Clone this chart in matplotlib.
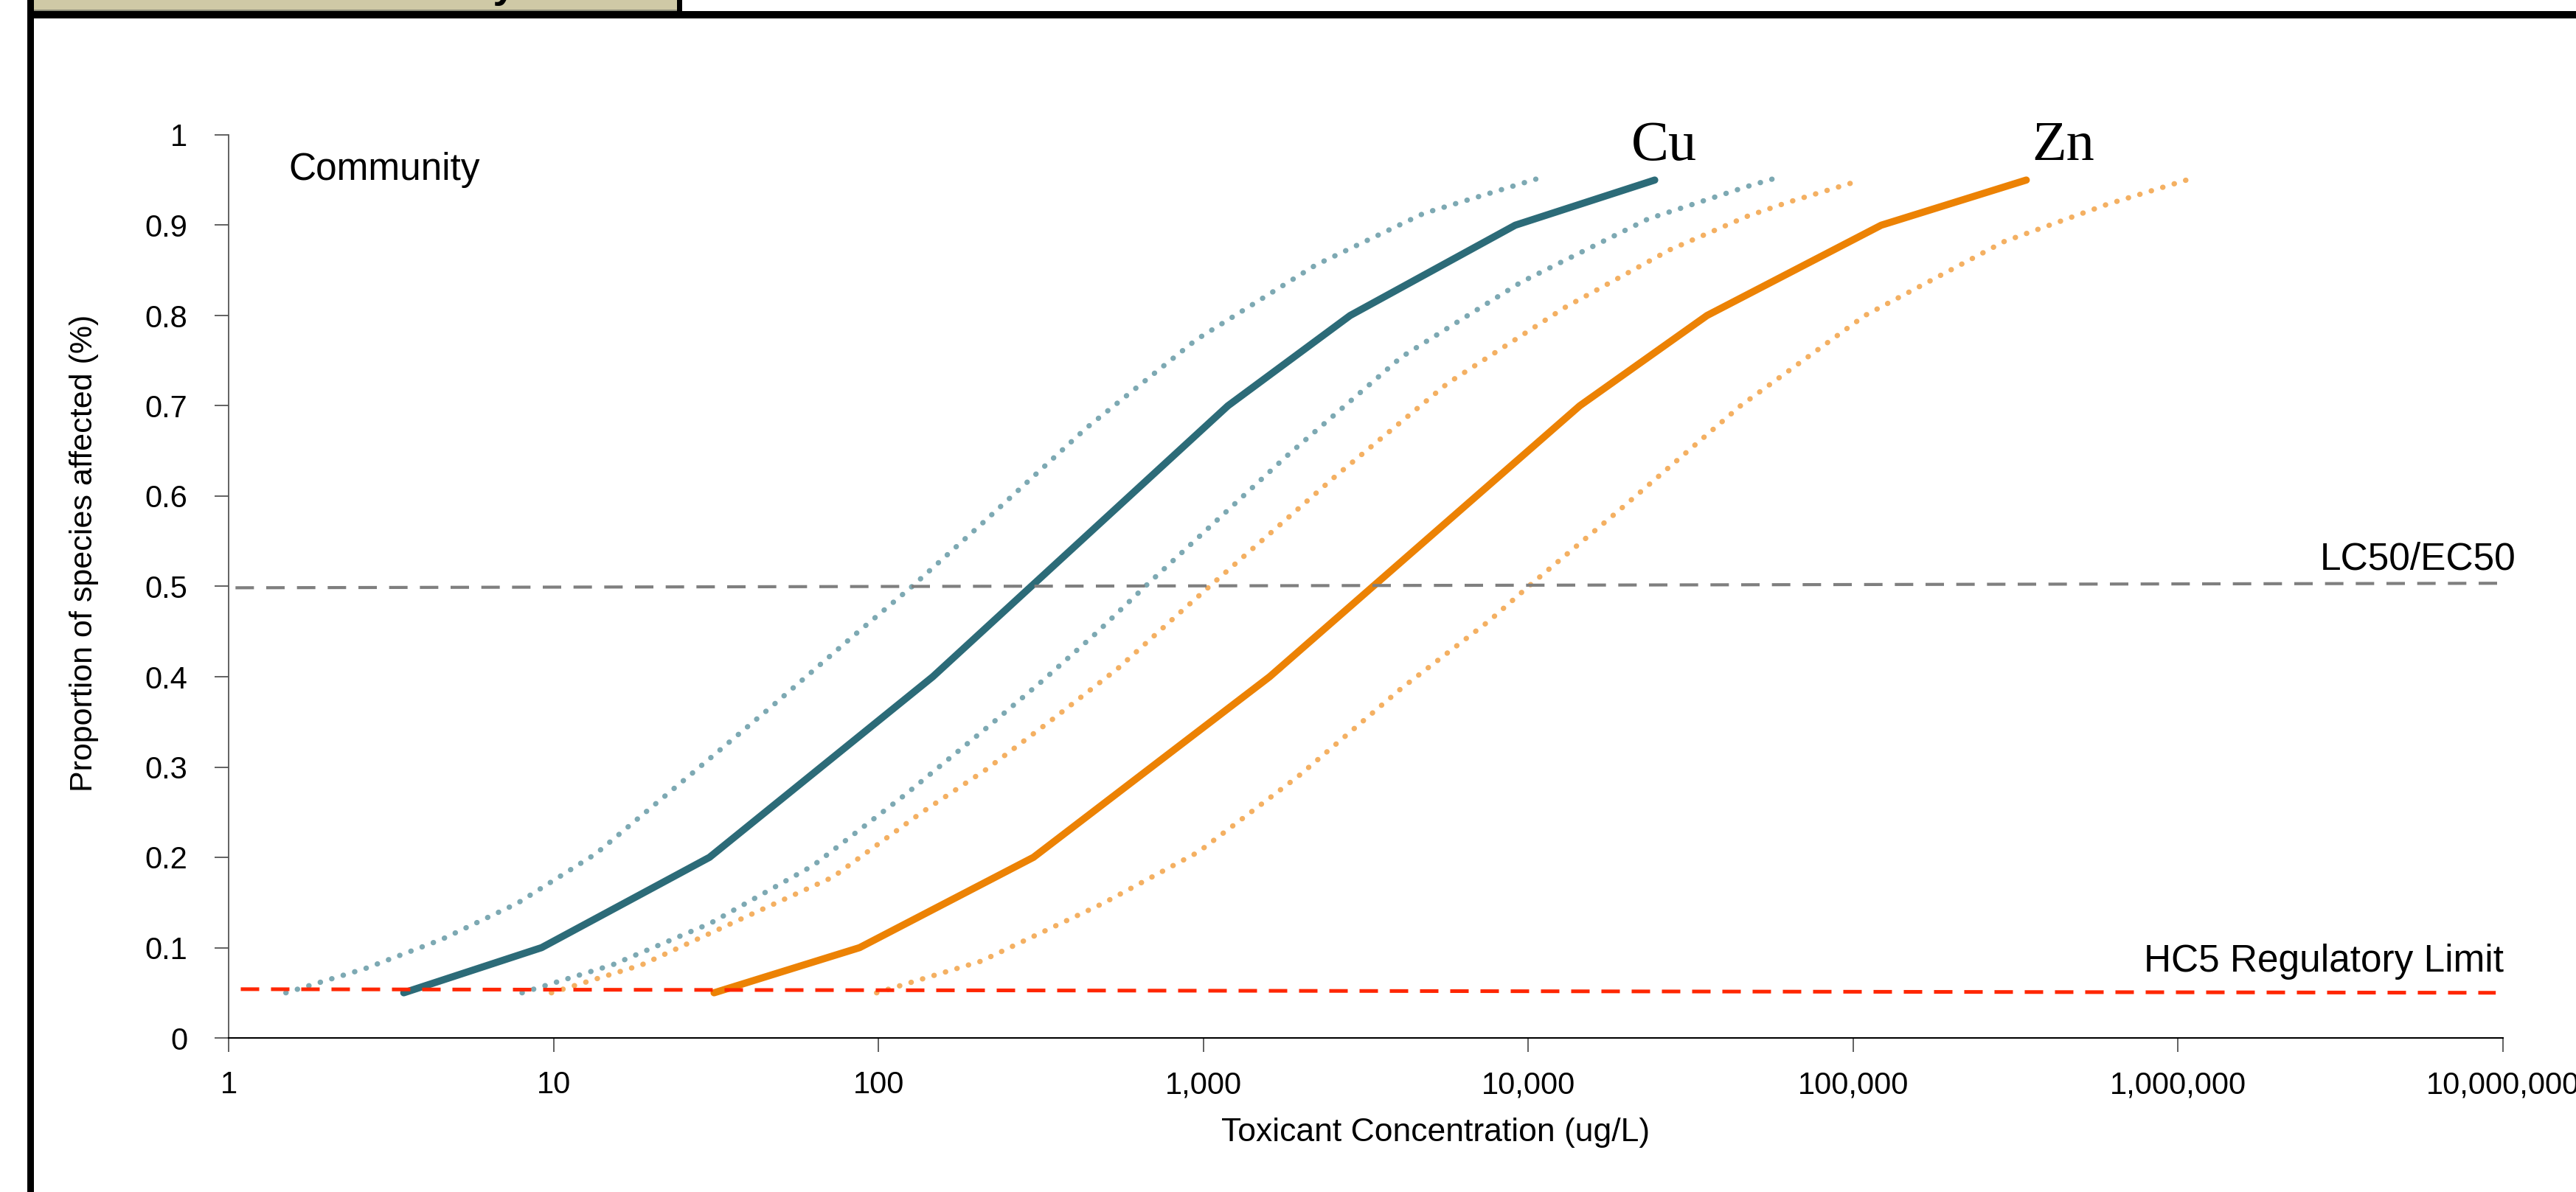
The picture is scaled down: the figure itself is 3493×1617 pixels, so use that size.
import numpy as np
import matplotlib
matplotlib.use("Agg")
import matplotlib.pyplot as plt
from matplotlib.patches import Rectangle
from matplotlib.ticker import FuncFormatter, FixedLocator, NullLocator

# proportion of species affected (quantiles)
cu_x = [3.46, 9.19, 30.2, 147, 1190, 2830, 9120, 24500]
cu_y = [0.05, 0.1, 0.2, 0.4, 0.7, 0.8, 0.9, 0.95]
zn_x = [31.2, 87.5, 300, 1600, 14400, 35500, 122000, 341000]
zn_y = [0.05, 0.1, 0.2, 0.4, 0.7, 0.8, 0.9, 0.95]

# confidence bounds (dotted)
cu_lo_x = [1.50, 2.64, 4.52, 7.73, 13.5, 26.3, 46.9, 83, 126, 206, 435, 949, 2220, 4760, 10550]
cu_lo_y = [0.05, 0.077, 0.109, 0.149, 0.204, 0.291, 0.367, 0.444, 0.499, 0.568, 0.675, 0.773, 0.856, 0.913, 0.951]
cu_hi_x = [8.0, 15.2, 30.4, 63, 121.5, 218, 321, 467, 671, 1800, 4070, 9510, 23400, 47300, 56300]
cu_hi_y = [0.05, 0.081, 0.127, 0.191, 0.270, 0.345, 0.396, 0.448, 0.502, 0.644, 0.754, 0.837, 0.907, 0.943, 0.951]
zn_lo_x = [9.85, 18.7, 37.4, 72.3, 135, 214, 341, 545, 841, 1052, 2550, 5650, 12980, 27350, 47300, 62500, 101500]
zn_lo_y = [0.05, 0.081, 0.131, 0.178, 0.249, 0.297, 0.352, 0.409, 0.470, 0.501, 0.622, 0.725, 0.809, 0.873, 0.910, 0.925, 0.948]
zn_hi_x = [98.7, 207, 491, 966, 1963, 4065, 7590, 10090, 19000, 45000, 108700, 292000, 604000, 1083000]
zn_hi_y = [0.05, 0.085, 0.149, 0.206, 0.290, 0.387, 0.462, 0.501, 0.584, 0.70, 0.80, 0.882, 0.923, 0.951]

# reference lines
lc50_x = [1.05, 1.0e7]
lc50_y = [0.4985, 0.5035]
hc5_x = [1.09, 9.5e6]
hc5_y = [0.054, 0.050]

x_ticks = [1, 10, 100, 1000, 10000, 100000, 1000000, 10000000]
y_ticks = [0, 0.1, 0.2, 0.3, 0.4, 0.5, 0.6, 0.7, 0.8, 0.9, 1.0]

W, H = 3493, 1617
plt.rcParams['font.family'] = ['Liberation Sans', 'DejaVu Sans']

fig = plt.figure(figsize=(W / 100, H / 100), dpi=100)
fig.patch.set_facecolor('white')

def fx(px):
    return px / W

def fy(py):
    return 1 - py / H

ax = fig.add_axes([fx(310), fy(1408), fx(3394) - fx(310), fy(183) - fy(1408)])

teal = '#2C6B78'
teal_lt = '#7DA9B3'
orange = '#EC8204'
orange_lt = '#F4B062'
dot = (0, (0.05, 2.2))

ax.plot(cu_lo_x, cu_lo_y, color=teal_lt, lw=5.2, linestyle=dot, dash_capstyle='round')
ax.plot(cu_hi_x, cu_hi_y, color=teal_lt, lw=5.2, linestyle=dot, dash_capstyle='round')
ax.plot(zn_lo_x, zn_lo_y, color=orange_lt, lw=5.2, linestyle=dot, dash_capstyle='round')
ax.plot(zn_hi_x, zn_hi_y, color=orange_lt, lw=5.2, linestyle=dot, dash_capstyle='round')
ax.plot(cu_x, cu_y, color=teal, lw=7.0, solid_capstyle='round', solid_joinstyle='round')
ax.plot(zn_x, zn_y, color=orange, lw=7.0, solid_capstyle='round', solid_joinstyle='round')

ax.plot(lc50_x, lc50_y, color='#7F7F7F', lw=3.0, linestyle=(0, (6, 4)), zorder=5)
ax.plot(hc5_x, hc5_y, color='#FF2600', lw=3.6, linestyle=(0, (5, 3.2)), zorder=5)

ax.set_xscale('log')
ax.set_xlim(1, 1e7)
ax.set_ylim(0, 1)
ax.xaxis.set_major_locator(FixedLocator(x_ticks))
ax.xaxis.set_minor_locator(NullLocator())
ax.xaxis.set_major_formatter(FuncFormatter(lambda v, p: '{:,.0f}'.format(v)))
ax.set_yticks(y_ticks)
ax.yaxis.set_major_formatter(FuncFormatter(lambda v, p: '{:g}'.format(round(v, 1))))

for s in ['top', 'right']:
    ax.spines[s].set_visible(False)
ax.spines['left'].set_color('#555555')
ax.spines['left'].set_linewidth(1.3)
ax.spines['bottom'].set_color('black')
ax.spines['bottom'].set_linewidth(1.5)
ax.tick_params(axis='both', direction='out', length=14, width=1.3, color='#555555', labelsize=30)
ax.tick_params(axis='x', pad=18)
ax.tick_params(axis='y', pad=26)

# annotations
fig.text(fx(391), fy(244), 'Community', fontsize=37, va='baseline', ha='left')
fig.text(fx(3146), fy(772), 'LC50/EC50', fontsize=37, va='baseline', ha='left')
fig.text(fx(3395), fy(1318), 'HC5 Regulatory Limit', fontsize=37, va='baseline', ha='right')
fig.text(fx(2256), fy(217), 'Cu', fontsize=55, va='baseline', ha='center', family='Liberation Serif')
fig.text(fx(2798), fy(217), 'Zn', fontsize=55, va='baseline', ha='center', family='Liberation Serif')

fig.text(fx(1947), fy(1548), 'Toxicant Concentration (ug/L)', fontsize=32, va='baseline', ha='center')
fig.text(fx(114), fy(750), 'Proportion of species affected (%)', fontsize=31,
         rotation=90, va='center', ha='center')

# slide frame and title tab
fig.add_artist(Rectangle((fx(45), fy(13)), fx(918) - fx(45), fy(0) - fy(13),
                         transform=fig.transFigure, facecolor='#CFC9A6', edgecolor='none'))
fig.add_artist(Rectangle((fx(45), fy(15)), fx(918) - fx(45), fy(13) - fy(15),
                         transform=fig.transFigure, facecolor='#8C8C7A', edgecolor='none'))
fig.add_artist(Rectangle((fx(918), fy(17)), fx(925) - fx(918), fy(0) - fy(17),
                         transform=fig.transFigure, facecolor='black', edgecolor='none'))
fig.add_artist(Rectangle((fx(37), fy(25)), 1 - fx(37), fy(15) - fy(25),
                         transform=fig.transFigure, facecolor='black', edgecolor='none'))
fig.add_artist(Rectangle((fx(37), 0), fx(46) - fx(37), 1,
                         transform=fig.transFigure, facecolor='black', edgecolor='none'))
# bottom of the slide title, cut off by the top edge as in the original
fig.text(fx(700), fy(-4), 'Sensitivity', fontsize=40, fontweight='bold', ha='right', va='baseline')

fig.savefig('out.png', dpi=100, facecolor='white')
